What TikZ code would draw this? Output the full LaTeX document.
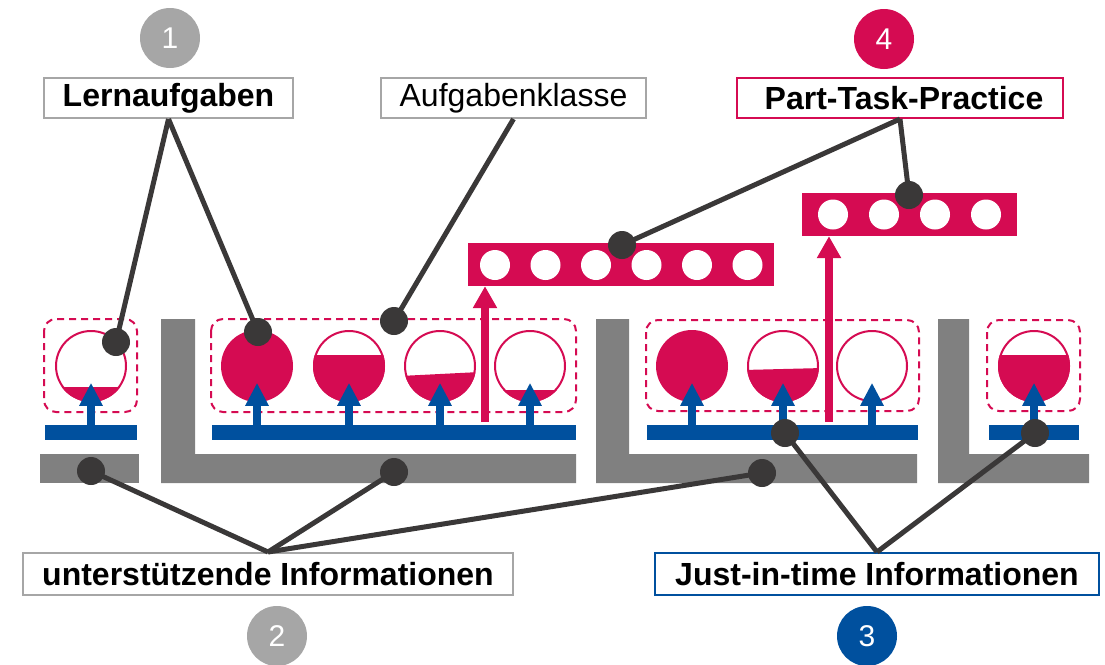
\documentclass[tikz,border=0pt]{standalone}
\usepackage{fontspec}
\setmainfont{Liberation Sans}
\usetikzlibrary{arrows.meta}
\definecolor{pk}{HTML}{D50B52}
\definecolor{bl}{HTML}{00509E}
\definecolor{gL}{HTML}{808080}
\definecolor{gC}{HTML}{A6A6A6}
\definecolor{dk}{HTML}{3A3838}
\newcommand\tankfill[4]{%
  \begin{scope}
    \clip (#1,#2) circle (36pt);
    \fill[pk] (#1-40,#3) -- (#1+40,#4) -- (#1+40,#2+40) -- (#1-40,#2+40) -- cycle;
  \end{scope}
  \draw[pk, line width=2pt] (#1,#2) circle (35pt);
}
\begin{document}
\begin{tikzpicture}[x=1pt,y=-1pt,
  lbl/.style={draw=gC, line width=2pt, fill=white, inner sep=0pt, text=black,
    font=\fontsize{32}{36}\selectfont\bfseries},
  num/.style={circle, inner sep=0pt, minimum size=60pt, text=white,
    font=\fontsize{30}{34}\selectfont},
  conn/.style={draw=dk, line width=5pt},
  dot/.style={circle, fill=dk, inner sep=0pt, minimum size=28pt},
  bbar/.style={fill=bl, inner sep=0pt, minimum height=15pt},
  pbar/.style={fill=pk, inner sep=0pt, minimum height=43pt},
  barrow/.style={draw=bl, line width=8pt, -{Triangle[width=22pt,length=23pt]}},
  parrow/.style={draw=pk, line width=8pt, -{Triangle[width=23pt,length=22pt]}},
  grp/.style={draw=pk, line width=2pt, dash pattern=on 7pt off 5pt, rounded corners=12pt}
]
\useasboundingbox (0,0) rectangle (1105,664);

% gray L shapes
\fill[gL] (40,454) rectangle (139,483);
\fill[gL] (161,319) -- (195,319) -- (195,454) -- (576,454) -- (576,483) -- (161,483) -- cycle;
\fill[gL] (596,319) -- (629,319) -- (629,454) -- (917,454) -- (917,483) -- (596,483) -- cycle;
\fill[gL] (938,319) -- (969,319) -- (969,454) -- (1089,454) -- (1089,483) -- (938,483) -- cycle;

% blue bars
\node[bbar, minimum width=92pt]  (bb0) at (91,432.5) {};
\node[bbar, minimum width=364pt] (bb1) at (394,432.5) {};
\node[bbar, minimum width=271pt] (bb2) at (782.5,432.5) {};
\node[bbar, minimum width=90pt]  (bb3) at (1034,432.5) {};

% dashed groups
\draw[grp] (44,319) rectangle (137,412);
\draw[grp] (211,319) rectangle (576,412);
\draw[grp] (646,320) rectangle (919,411);
\draw[grp] (987,320) rectangle (1080,411);

% tanks
\coordinate (tA) at (91,366);
\coordinate (tB) at (257,366);
\coordinate (tC) at (349,366);
\coordinate (tD) at (440,366);
\coordinate (tE) at (530,366);
\coordinate (tF) at (692,366);
\coordinate (tG) at (783,366);
\coordinate (tH) at (872,366);
\coordinate (tI) at (1034,366);
\tankfill{91}{366}{387}{387}
\fill[pk] (tB) circle (36pt);
\tankfill{349}{366}{355}{355}
\tankfill{440}{366}{376}{372}
\tankfill{530}{366}{390}{390}
\fill[pk] (tF) circle (36pt);
\tankfill{783}{366}{370}{368}
\draw[pk, line width=2pt] (tH) circle (35pt);
\tankfill{1034}{366}{355}{355}

% blue arrows
\draw[barrow] (tA |- bb0.north) -- ++(0,-42);
\draw[barrow] (tB |- bb1.north) -- ++(0,-42);
\draw[barrow] (tC |- bb1.north) -- ++(0,-42);
\draw[barrow] (tD |- bb1.north) -- ++(0,-42);
\draw[barrow] (tE |- bb1.north) -- ++(0,-42);
\draw[barrow] (tF |- bb2.north) -- ++(0,-42);
\draw[barrow] (tG |- bb2.north) -- ++(0,-42);
\draw[barrow] (tH |- bb2.north) -- ++(0,-42);
\draw[barrow] (tI |- bb3.north) -- ++(0,-42);

% pink bars
\node[pbar, minimum width=306pt] (pb1) at (621,264.5) {};
\node[pbar, minimum width=215pt] (pb2) at (909.5,214.5) {};
\foreach \x in {495,545.5,596,646.5,697,747.5} \fill[white] (\x,265) circle (15pt);
\foreach \x in {833,884,935,986} \fill[white] (\x,214.5) circle (15pt);

% pink arrows
\coordinate (pa1) at (485,422);
\coordinate (pa2) at (829,422);
\draw[parrow] (pa1) -- (pa1 |- pb1.south);
\draw[parrow] (pa2) -- (pa2 |- pb2.south);

% labels
\node[lbl, minimum width=249pt, minimum height=40pt] (lern) at (168.5,98) {Lernaufgaben};
\node[lbl, minimum width=265pt, minimum height=40pt, font=\fontsize{32}{36}\selectfont] (aufg) at (513.5,98) {Aufgabenklasse};
\node[lbl, draw=pk, minimum width=326pt, minimum height=40pt] (ptp) at (900,98) {\hspace*{8pt}Part-Task-Practice};
\node[lbl, minimum width=490pt, minimum height=42pt] (unt) at (268,574) {unterstützende Informationen};
\node[lbl, draw=bl, minimum width=444pt, minimum height=42pt] (jit) at (877,574) {Just-in-time Informationen};

% number circles
\node[num, fill=gC] (n1) at (170,38) {1};
\node[num, fill=pk] (n4) at (884,39) {4};
\node[num, fill=gC] (n2) at (277,636) {2};
\node[num, fill=bl] (n3) at (867,636) {3};

% dots
\node[dot] (d1) at (116,342) {};
\node[dot] (d2) at (258,332) {};
\node[dot] (d3) at (394,321) {};
\node[dot] (d4) at (622,245) {};
\node[dot] (d5) at (909,195) {};
\node[dot] (d6) at (91,471) {};
\node[dot] (d7) at (394,472) {};
\node[dot] (d8) at (762,473) {};
\node[dot] (d9) at (785,433) {};
\node[dot] (d10) at (1035,433) {};

% connectors
\draw[conn] (lern.south) -- (d1.center);
\draw[conn] (lern.south) -- (d2.center);
\draw[conn] (aufg.south) -- (d3.center);
\draw[conn] (ptp.south) -- (d4.center);
\draw[conn] (ptp.south) -- (d5.center);
\draw[conn] (unt.north) -- (d6.center);
\draw[conn] (unt.north) -- (d7.center);
\draw[conn] (unt.north) -- (d8.center);
\draw[conn] (jit.north) -- (d9.center);
\draw[conn] (jit.north) -- (d10.center);
\end{tikzpicture}
\end{document}
